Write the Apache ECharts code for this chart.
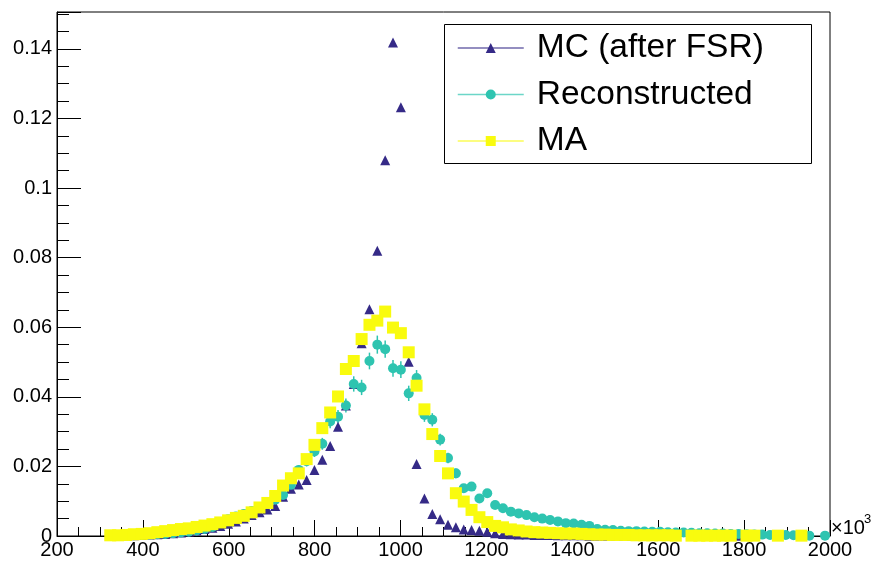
<!DOCTYPE html>
<html><head><meta charset="utf-8">
<script src="https://cdn.jsdelivr.net/npm/echarts@6/dist/echarts.min.js"></script>
<style>html,body{margin:0;padding:0;background:#fff}#c{width:873px;height:561px}</style>
</head><body><div id="c"></div>
<script>
// ---- data ----
const binCenters = [
 324.0, 342.3, 360.6, 378.9, 397.2, 415.5, 433.7, 452.0, 470.3, 488.6,
 506.9, 525.2, 543.5, 561.8, 580.1, 598.4, 616.6, 634.9, 653.2, 671.5,
 689.8, 708.1, 726.4, 744.7, 763.0, 781.3, 799.5, 817.8, 836.1, 854.4,
 872.7, 891.0, 909.3, 927.6, 945.9, 964.2, 982.4, 1000.7, 1019.0, 1037.3,
 1055.6, 1073.9, 1092.2, 1110.5, 1128.8, 1147.1, 1165.3, 1183.6, 1201.9, 1220.2,
 1238.5, 1256.8, 1275.1, 1293.4, 1311.7, 1330.0, 1348.2, 1366.5, 1384.8, 1403.1,
 1421.4, 1439.7, 1458.0, 1476.3, 1494.6, 1512.9, 1531.1, 1549.4, 1567.7, 1586.0,
 1604.3, 1622.6, 1640.9, 1659.2, 1677.5, 1695.8, 1714.0, 1732.3, 1750.6, 1768.9,
 1787.2, 1805.5, 1823.8, 1842.1, 1860.4, 1878.7, 1896.9, 1915.2, 1933.5, 1951.8,
 1970.1, 1988.4
];
const mcAfterFSR = [
 0.0001, 0.0001, 0.0002, 0.0002, 0.0003, 0.0004, 0.0005, 0.0006, 0.0008, 0.0010,
 0.0013, 0.0016, 0.0020, 0.0024, 0.0029, 0.0035, 0.0042, 0.0050, 0.0060, 0.0068,
 0.0076, 0.0086, 0.0113, 0.0136, 0.0148, 0.0161, 0.0190, 0.0219, 0.0259, 0.0314,
 0.0375, 0.0437, 0.0554, 0.0652, 0.0820, 0.1080, 0.1418, 0.1232, 0.0501, 0.0207,
 0.0108, 0.0063, 0.0048, 0.0032, 0.0025, 0.0019, 0.0017, 0.0015, 0.0012, 0.0008,
 0.0006, 0.0005, 0.0004, 0.0004, 0.0003, 0.0003, 0.0003, 0.0002, 0.0002, 0.0002,
 0.0002, 0.0001, 0.0001, 0.0001, 0.0001, 0.0001, 0.0001, 0.0001, null, 0.0001,
 0.0001, null, 0.0001, null, null, 0.0001, null, null, null, null,
 0.0001, null, null, null, null, null, null, null, null, null,
 null, null
];
const reconstructed = [
 0.0001, 0.0001, 0.0002, 0.0002, 0.0003, 0.0004, 0.0005, 0.0006, 0.0008, 0.0010,
 0.0012, 0.0016, 0.0020, 0.0026, 0.0038, 0.0048, 0.0056, 0.0063, 0.0072, 0.0082,
 0.0092, 0.0104, 0.0118, 0.0147, 0.0190, 0.0215, 0.0243, 0.0265, 0.0329, 0.0343,
 0.0375, 0.0437, 0.0427, 0.0503, 0.0550, 0.0537, 0.0482, 0.0478, 0.0410, 0.0454,
 0.0348, 0.0334, 0.0277, 0.0224, 0.0180, 0.0137, 0.0142, 0.0108, 0.0123, 0.0089,
 0.0080, 0.0070, 0.0065, 0.0060, 0.0054, 0.0050, 0.0046, 0.0042, 0.0037, 0.0036,
 0.0032, 0.0029, 0.0020, 0.0018, 0.0017, 0.0015, 0.0014, 0.0014, 0.0013, 0.0012,
 0.0012, 0.0011, 0.0010, 0.0010, 0.0009, 0.0008, 0.0008, 0.0007, 0.0007, 0.0006,
 0.0006, 0.0005, 0.0004, 0.0004, 0.0003, 0.0003, 0.0003, 0.0002, 0.0002, 0.0001,
 null, 0.0001
];
const reconstructedErr = [
 0.0001, 0.0001, 0.0001, 0.0001, 0.0002, 0.0002, 0.0002, 0.0002, 0.0003, 0.0003,
 0.0003, 0.0004, 0.0004, 0.0005, 0.0006, 0.0007, 0.0007, 0.0008, 0.0008, 0.0009,
 0.0010, 0.0010, 0.0011, 0.0012, 0.0014, 0.0015, 0.0016, 0.0017, 0.0019, 0.0019,
 0.0020, 0.0022, 0.0022, 0.0024, 0.0026, 0.0025, 0.0024, 0.0024, 0.0022, 0.0023,
 0.0020, 0.0019, 0.0017, 0.0015, 0.0014, 0.0012, 0.0012, 0.0010, 0.0011, 0.0009,
 0.0009, 0.0008, 0.0008, 0.0008, 0.0007, 0.0007, 0.0007, 0.0006, 0.0006, 0.0006,
 0.0006, 0.0005, 0.0004, 0.0004, 0.0004, 0.0004, 0.0004, 0.0004, 0.0004, 0.0003,
 0.0003, 0.0003, 0.0003, 0.0003, 0.0003, 0.0003, 0.0003, 0.0003, 0.0003, 0.0002,
 0.0002, 0.0002, 0.0002, 0.0002, 0.0002, 0.0002, 0.0002, 0.0001, 0.0001, 0.0001,
 null, 0.0001
];
const maValues = [
 0.0002, 0.0002, 0.0003, 0.0005, 0.0006, 0.0008, 0.0011, 0.0014, 0.0017, 0.0020,
 0.0022, 0.0026, 0.0030, 0.0034, 0.0039, 0.0045, 0.0052, 0.0058, 0.0068, 0.0082,
 0.0095, 0.0115, 0.0145, 0.0166, 0.0180, 0.0221, 0.0262, 0.0310, 0.0355, 0.0401,
 0.0480, 0.0503, 0.0566, 0.0607, 0.0619, 0.0645, 0.0599, 0.0583, 0.0528, 0.0432,
 0.0364, 0.0293, 0.0230, 0.0180, 0.0123, 0.0099, 0.0075, 0.0054, 0.0040, 0.0029,
 0.0025, 0.0019, 0.0016, 0.0013, 0.0011, 0.0010, 0.0009, 0.0008, 0.0007, 0.0007,
 0.0006, 0.0005, 0.0004, 0.0004, 0.0003, 0.0003, 0.0003, 0.0002, 0.0002, 0.0002,
 0.0002, 0.0002, 0.0001, null, 0.0001, 0.0001, 0.0001, 0.0001, 0.0001, 0.0001,
 null, 0.0001, 0.0001, null, null, 0.0001, null, null, 0.0001, null,
 null, null
];
const seriesNames = ['MC (after FSR)', 'Reconstructed', 'MA'];
const xRange = [200, 2000];
const xMajorStep = 200;
const yRange = [0, 0.1506];
const yMajorStep = 0.02;
const yMinorStep = 0.005;

// ---- styling ----
const FONT = '"Liberation Sans", Arial, Helvetica, sans-serif';
const COL_MC = '#352a87', COL_RECO = '#2ec4b0', COL_MA = '#f9fb0e';

function pairs(vals) {
  const out = [];
  vals.forEach((v, i) => { if (v !== null) out.push([binCenters[i], v]); });
  return out;
}
const errData = [];
reconstructed.forEach((v, i) => { if (v !== null) errData.push([binCenters[i], v, reconstructedErr[i]]); });

const chart = echarts.init(document.getElementById('c'), null, {renderer: 'canvas'});
const tickLine = {color: '#000', width: 1};
chart.setOption({
  animation: false,
  backgroundColor: '#fff',
  grid: {left: 57, right: 43, top: 12, bottom: 25, show: true, borderColor: '#000', borderWidth: 1, backgroundColor: 'transparent'},
  xAxis: {
    type: 'value', min: xRange[0], max: xRange[1], interval: xMajorStep,
    axisLine: {show: true, onZero: false, lineStyle: tickLine},
    axisTick: {show: true, inside: true, length: 16, lineStyle: tickLine},
    minorTick: {show: true, splitNumber: 4, length: 9, lineStyle: tickLine},
    axisLabel: {show: true, margin: 4, color: '#000', fontSize: 20, fontFamily: FONT, showMinLabel: true, showMaxLabel: true,
      formatter: v => String(v)},
    splitLine: {show: false}, minorSplitLine: {show: false}
  },
  yAxis: [{
    type: 'value', position: 'left', min: yRange[0], max: yRange[1], interval: yMajorStep,
    axisLine: {show: true, onZero: false, lineStyle: tickLine},
    axisTick: {show: true, inside: true, length: 24, lineStyle: tickLine},
    axisLabel: {show: true, margin: 5, color: '#000', fontSize: 20, fontFamily: FONT,
      formatter: v => { const k = v / yMajorStep; return Math.abs(k - Math.round(k)) < 1e-6 ? String(+v.toFixed(2)) : ''; }},
    splitLine: {show: false}
  }, {
    type: 'value', position: 'left', min: yRange[0], max: yRange[1], interval: yMinorStep,
    axisLine: {show: false},
    axisTick: {show: true, inside: true, length: 12, lineStyle: tickLine},
    axisLabel: {show: false}, splitLine: {show: false}
  }],
  legend: {
    orient: 'vertical', left: 457, top: 31, padding: 0,
    itemWidth: 66, itemHeight: 12.5, itemGap: 12.5, selectedMode: false,
    textStyle: {fontSize: 33.5, lineHeight: 33, color: '#000', fontFamily: FONT, padding: [0, 0, 0, 8]},
    lineStyle: {width: 1.5, opacity: 0.7},
    data: seriesNames
  },
  graphic: [
    {type: 'rect', z: 1, shape: {x: 444.5, y: 24.5, width: 367, height: 139}, style: {fill: '#fff', stroke: '#000', lineWidth: 1}},
    {type: 'text', z: 5, x: 831, y: 528.5, style: {text: '×10', font: '20px ' + FONT, fill: '#000', verticalAlign: 'middle', align: 'left'}},
    {type: 'text', z: 5, x: 864, y: 519, style: {text: '3', font: '13px ' + FONT, fill: '#000', verticalAlign: 'middle', align: 'left'}}
  ],
  series: [
    {name: seriesNames[0], type: 'line', data: pairs(mcAfterFSR), symbol: 'triangle', symbolSize: 10, showAllSymbol: true,
     itemStyle: {color: COL_MC}, lineStyle: {color: COL_MC, opacity: 0}, clip: false, silent: true, z: 2},
    {type: 'custom', name: 'recoErrors', data: errData, encode: {x: 0, y: 1}, clip: false, silent: true, z: 2,
     renderItem: (params, api) => {
       const x = api.value(0), y = api.value(1), e = api.value(2);
       const p1 = api.coord([x, y - e]), p2 = api.coord([x, y + e]);
       return {type: 'line', shape: {x1: p1[0], y1: p1[1], x2: p2[0], y2: p2[1]}, style: {stroke: COL_RECO, lineWidth: 1.5}};
     }},
    {name: seriesNames[1], type: 'line', data: pairs(reconstructed), symbol: 'circle', symbolSize: 10, showAllSymbol: true,
     itemStyle: {color: COL_RECO}, lineStyle: {color: COL_RECO, opacity: 0}, clip: false, silent: true, z: 2},
    {name: seriesNames[2], type: 'line', data: pairs(maValues), symbol: 'rect', symbolSize: 12, showAllSymbol: true,
     itemStyle: {color: COL_MA}, lineStyle: {color: COL_MA, opacity: 0}, clip: false, silent: true, z: 2}
  ]
});
</script>
</body></html>
